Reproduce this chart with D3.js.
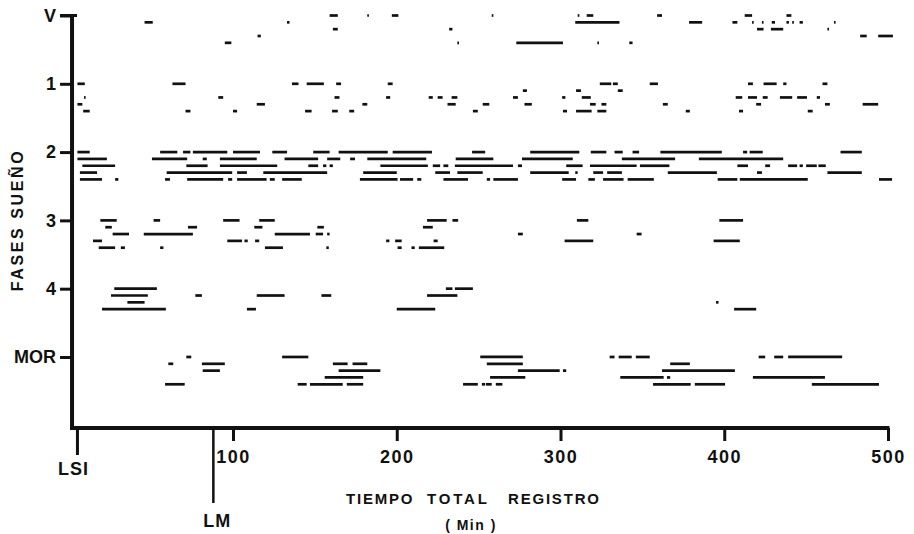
<!DOCTYPE html>
<html>
<head>
<meta charset="utf-8">
<script src="https://cdn.jsdelivr.net/npm/d3@7"></script>
<style>
  html, body { margin: 0; padding: 0; background: #fff; }
  svg { display: block; }
  text { font-family: "Liberation Sans", Arial, sans-serif; fill: #111; }
</style>
</head>
<body>
<svg id="chart" width="914" height="534"></svg>
<script>
// ---- Data (minutes from start of record) ----
const stageLabels = ["V", "1", "2", "3", "4", "MOR"];
const xTickValues = [100, 200, 300, 400, 500];
const lsiMinute = 5;
const lmMinute = 88;

// each entry: [subject row (0-4), start minute, end minute]
const segV = [
  [1,46,51],[4,95,99],[3,115,117],[1,133,134.5],[0,159,164],[2,161,164],[0,182,183],[0,197,201],
  [2,232,234],[4,237,238],[0,258,259],[4,273,301.5],[1,309,336],[0,310.5,311.5],[0,316,320],
  [4,322.5,323.5],[0,359,362],[4,342,344],[1,378.5,386.5],[1,405,408],[0,412.5,417],[1,417,418],
  [1,423,424],[1,429,431],[2,420,424],[2,428.5,436],[0,438,441],[1,438,439.5],[1,441.5,442.5],
  [1,446,448],[2,463,464],[1,467,468],[3,483,487],[3,494,503]
];
const seg1 = [
  [0,5,9.5],[2,9,10],[3,5,8],[4,8.5,12.5],[0,63,71],[4,71,74],[2,91,94],[4,100,102.5],
  [3,114.5,119.5],[0,136,140],[0,145,155.5],[4,144,148],[0,163,166],[2,162,165],[4,160.5,164],
  [4,171,174],[3,179,182],[2,193.5,196],[0,194.5,197.5],[2,219.5,222],[2,225,228],[2,233.5,237],
  [3,231,236],[4,246.5,249.5],[3,252.5,256.5],[2,271,274],[1,277,279.5],[3,278,282.5],[2,301,303],
  [4,301.5,304],[1,309.5,312.5],[2,313,318.5],[4,309.5,319],[3,318,321.5],[4,322.5,328],[3,325,328],
  [0,324,331],[0,332,335],[1,335,338],[0,354.5,359.5],[3,362.5,365.5],[4,376.5,379],[2,407,411],
  [2,414.5,420],[2,423.5,426.5],[0,414.5,417.5],[0,424,432],[0,436,438],[3,419.5,422.5],[4,409,411.5],
  [2,434,441.5],[2,444.5,450.5],[2,456.5,458.5],[0,460,463],[3,461.5,464.5],[4,451,454],[3,484.5,494]
];
const seg2 = [
  [0,5,12.5],[0,55.5,66],[0,69.5,74],[0,75.5,96.5],[0,100,116.5],[0,124,133],[0,149,159],[0,164.5,194.5],
  [0,197.5,221.5],[0,246,254],[0,281.5,311.5],[0,318.5,328],[0,333,338],[0,344,348],[0,361,398.5],
  [0,411.5,414],[0,415.5,423.5],[0,471,484],
  [1,5,23],[1,50.5,72],[1,81.5,84],[1,92,114.5],[1,131.5,152],[1,157.5,165.5],[1,171.5,174.5],
  [1,182,218],[1,236,259],[1,276.5,307.5],[1,337.5,370],[1,384.5,436],
  [2,8,28],[2,71.5,84.5],[2,92,127],[2,146,152],[2,155,157],[2,159,161],[2,190,219],[2,222,226.5],
  [2,228.5,231.5],[2,235.5,271],[2,274,276.5],[2,303.5,313.5],[2,318,346.5],[2,348.5,366.5],
  [2,408,414.5],[2,425,428],[2,439,444.5],[2,446,448],[2,450,456.5],[2,457.5,462],
  [3,6.5,17],[3,59.5,99.5],[3,102.5,108.5],[3,118.5,157.5],[3,179.5,200],[3,223.5,232.5],[3,237,252.5],
  [3,281.5,305],[3,309,310.5],[3,320,326],[3,328.5,337.5],[3,365.5,395.5],[3,420,423],[3,463,484],
  [4,6.5,20],[4,28,30],[4,58.5,61.5],[4,72,94],[4,97,99.5],[4,102.5,120.5],[4,122.5,125.5],[4,130,142],
  [4,177.5,200.5],[4,202,210],[4,212.5,215],[4,228.5,243.5],[4,255,257],[4,259,274],[4,301,309.5],
  [4,317,321],[4,326,338.5],[4,341,357],[4,396,408],[4,409.5,451],[4,494.5,502.5]
];
const seg3 = [
  [0,19,29],[0,51.5,55.5],[0,94,104],[0,116,125.5],[0,218.5,230.5],[0,234,237.5],[0,310,317],[0,397,411.5],
  [1,22,26],[1,72.5,78],[1,113,118],[1,151.5,155.5],[1,216,222],
  [2,26.5,36.5],[2,45.5,75.5],[2,125.5,147],[2,150.5,155],[2,157.5,159],[2,274,277],[2,346.5,349.5],
  [3,14.5,20],[3,96.5,105.5],[3,107,109],[3,113.5,116],[3,193.5,195.5],[3,199,203],[3,222.5,225],
  [3,302.5,320],[3,393.5,409.5],
  [4,18,28],[4,31.5,34],[4,55.5,57.5],[4,119.5,130.5],[4,157,158.5],[4,200.5,203],[4,209,211],[4,213.5,229]
];
const seg4 = [
  [0,27.5,53.5],[0,230,234],[0,235.5,246.5],
  [1,25.5,48],[1,77,81],[1,114.5,131.5],[1,154,160],[1,218.5,237],
  [2,35.5,46],[2,395,396.5],
  [3,20,59],[3,108.5,114],[3,200,223.5],[3,406,419.5]
];
const segMOR = [
  [0,71.5,74.5],[0,130,146],[0,251,277],[0,330,333],[0,335.5,343.5],[0,346,354.5],[0,421,425],
  [0,430.5,436],[0,439,472],
  [1,60.5,63.5],[1,81,95],[1,161,170],[1,173,182],[1,255,277],[1,367,379],
  [2,81.5,92],[2,164.5,190],[2,274,299.5],[2,301.5,303.5],[2,362,406.5],
  [3,156,179.5],[3,257,278.5],[3,336.5,363],[3,365,367],[3,417.5,461.5],
  [4,58.5,70.5],[4,139.5,145],[4,147,167],[4,169.5,179.5],[4,240.5,249.5],[4,252,254],[4,254.5,258],
  [4,260.5,264.5],[4,356.5,379.5],[4,382,400.5],[4,453.5,494.5]
];

// ---- Build ----
const stageSegments = [segV, seg1, seg2, seg3, seg4, segMOR];
const rows = [];
stageSegments.forEach((arr, si) => arr.forEach(d => rows.push({stage: si, row: d[0], start: d[1], end: d[2]})));

const svg = d3.select("#chart");
const x = d3.scaleLinear().domain([0, 500]).range([69.25, 888]);
const y = d3.scaleLinear().domain([0, 6.04]).range([15.5, 428]);
const rowStep = 0.1;
const axisX = x(1.7);
const axisY = y(6.04);

// segments
svg.append("g").attr("class", "segments")
  .selectAll("line").data(rows).join("line")
  .attr("x1", d => x(d.start))
  .attr("x2", d => x(d.end))
  .attr("y1", d => y(d.stage + d.row * rowStep))
  .attr("y2", d => y(d.stage + d.row * rowStep))
  .attr("stroke", "#111")
  .attr("stroke-width", 2.7);

// y axis
const yAxis = svg.append("g")
  .attr("transform", `translate(${axisX},0)`)
  .call(d3.axisLeft(y).tickValues(d3.range(stageLabels.length)).tickFormat(i => stageLabels[i])
        .tickSize(12).tickPadding(4));
yAxis.select(".domain").remove();
yAxis.selectAll(".tick line").attr("stroke", "#111").attr("stroke-width", 3);
yAxis.selectAll(".tick text").attr("font-size", 18).attr("font-weight", "bold").attr("fill", "#111")
  .style("font-family", "Liberation Sans, Arial, sans-serif");
svg.append("line").attr("x1", axisX - 12).attr("x2", axisX + 5).attr("y1", y(0)).attr("y2", y(0))
  .attr("stroke", "#111").attr("stroke-width", 3);
svg.append("line").attr("x1", axisX).attr("x2", axisX).attr("y1", y(0) - 1.5).attr("y2", axisY + 2)
  .attr("stroke", "#111").attr("stroke-width", 4);

// x axis
const xAxis = svg.append("g")
  .attr("transform", `translate(0,${axisY})`)
  .call(d3.axisBottom(x).tickValues(xTickValues).tickSize(13).tickPadding(9));
xAxis.select(".domain").remove();
xAxis.selectAll(".tick line").attr("stroke", "#111").attr("stroke-width", 3);
xAxis.selectAll(".tick text").attr("font-size", 18).attr("font-weight", "bold").attr("fill", "#111")
  .attr("letter-spacing", 1.5)
  .style("font-family", "Liberation Sans, Arial, sans-serif");
svg.append("line").attr("x1", axisX - 2).attr("x2", x(500) + 1.5).attr("y1", axisY).attr("y2", axisY)
  .attr("stroke", "#111").attr("stroke-width", 4);

// LSI and LM markers
svg.append("line").attr("x1", x(lsiMinute)).attr("x2", x(lsiMinute)).attr("y1", axisY).attr("y2", axisY + 27)
  .attr("stroke", "#111").attr("stroke-width", 3);
svg.append("text").attr("x", x(lsiMinute) - 4).attr("y", 475).attr("text-anchor", "middle")
  .attr("font-size", 18).attr("font-weight", "bold").attr("letter-spacing", 1).text("LSI");
svg.append("line").attr("x1", x(lmMinute)).attr("x2", x(lmMinute)).attr("y1", axisY).attr("y2", axisY + 75)
  .attr("stroke", "#111").attr("stroke-width", 2.5);
svg.append("text").attr("x", x(lmMinute) + 4).attr("y", 527).attr("text-anchor", "middle")
  .attr("font-size", 18).attr("font-weight", "bold").attr("letter-spacing", 1).text("LM");

// axis titles
const xt = svg.append("g").attr("font-size", 15).attr("font-weight", "bold");
xt.append("text").attr("x", 346).attr("y", 504).attr("letter-spacing", 1.8).text("TIEMPO");
xt.append("text").attr("x", 427).attr("y", 504).attr("letter-spacing", 2.8).text("TOTAL");
xt.append("text").attr("x", 508).attr("y", 504).attr("letter-spacing", 1.8).text("REGISTRO");
svg.append("text").attr("x", 471).attr("y", 530).attr("text-anchor", "middle")
  .attr("font-size", 14).attr("font-weight", "bold").attr("letter-spacing", 1.5).text("( Min )");

svg.append("text")
  .attr("transform", "translate(23,220) rotate(-90)")
  .attr("text-anchor", "middle")
  .attr("font-size", 16).attr("font-weight", "bold").attr("letter-spacing", 2.6)
  .text("FASES SUEÑO");
</script>
</body>
</html>
